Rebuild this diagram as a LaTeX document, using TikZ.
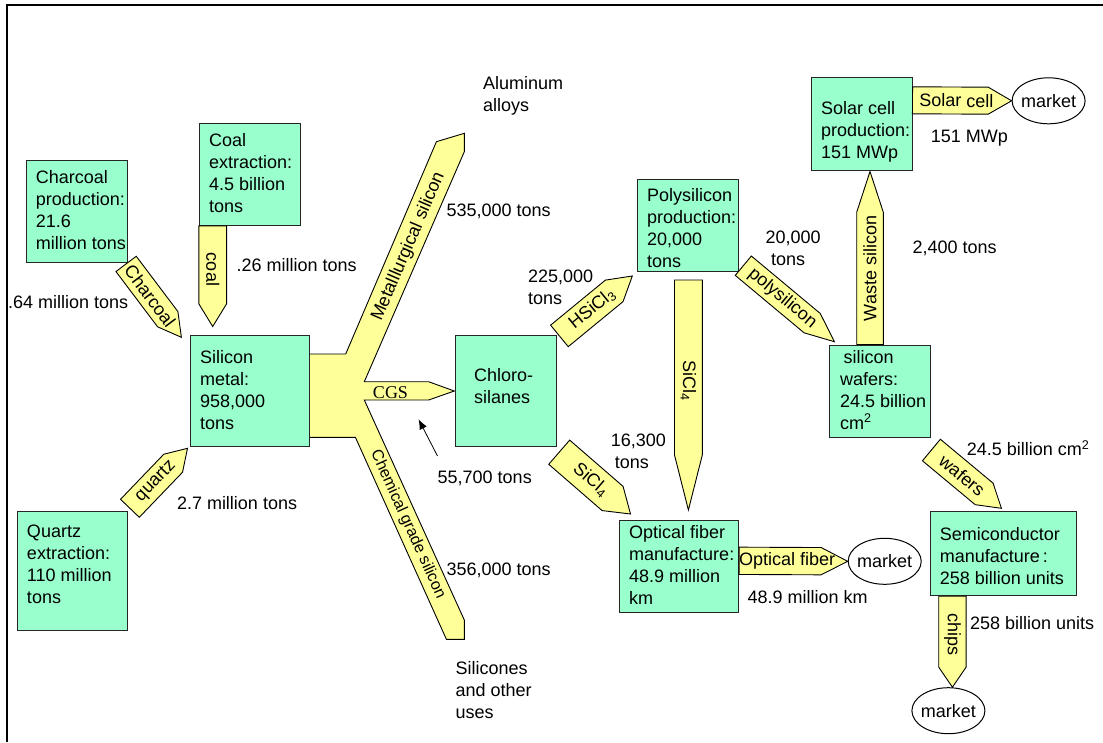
\documentclass[tikz,border=0pt]{standalone}
\usepackage{fontspec}
\setmainfont{Liberation Sans}
\newfontfamily\cgsfont{Liberation Serif}
\usetikzlibrary{calc,shapes.geometric,arrows.meta}

\definecolor{mint}{HTML}{99FFCC}
\definecolor{paleyellow}{HTML}{FFFF99}

\tikzset{
  procbox/.style={draw=black!85, line width=1pt, fill=mint, inner sep=0pt},
  boxtext/.style={align=left, inner sep=0pt, anchor=west, font=\fontsize{18}{22}\selectfont},
  note/.style={align=left, inner sep=0pt, anchor=west, font=\fontsize{18}{22}\selectfont},
  basenote/.style={inner sep=0pt, anchor=base west, font=\fontsize{18}{22}\selectfont},
  flow/.style={draw=black, line width=0.9pt, fill=paleyellow, line join=miter},
  flowlabel/.style={sloped, allow upside down, inner sep=0pt, font=\fontsize{18}{22}\selectfont},
  armlabel/.style={inner sep=0pt, font=\fontsize{18}{22}\selectfont},
  market/.style={ellipse, draw=black, line width=1pt, fill=white, minimum width=73pt,
    minimum height=46pt, inner sep=0pt, font=\fontsize{18}{22}\selectfont},
  frame/.style={line width=2.2pt, line join=miter},
  pointer/.style={line width=0.8pt, -{Latex[length=10pt,width=8pt]}},
}

% block arrow: #1 name, #2 tail, #3 tip, #4 half width, #5 head length,
% #6 label position along the arrow, #7 label
\newcommand\flowarrow[7]{%
  \coordinate (#1-t) at #2;
  \coordinate (#1-h) at #3;
  \coordinate (#1-n) at ($(#1-h)!#5!(#1-t)$);
  \draw[flow] ($(#1-t)!#4!90:(#1-h)$) -- ($(#1-n)!#4!90:(#1-h)$) -- (#1-h)
    -- ($(#1-n)!#4!-90:(#1-h)$) -- ($(#1-t)!#4!-90:(#1-h)$) -- cycle;
  \path (#1-t) -- (#1-h) node[flowlabel, pos=#6] (#1-l) {#7};
}

\begin{document}
\begin{tikzpicture}[x=1pt,y=-1pt]
\useasboundingbox (0,0) rectangle (1103,742);

% page frame
\draw[frame] (6.7,742) -- (6.7,5) -- (1103,5);

% outflow of silicon metal: metallurgical, CGS and chemical grade branches
\draw[flow] (300,354) -- (345.7,354) -- (436.4,141.7) -- (464.3,133.3) -- (464.3,151.7)
  -- (364.3,381.7) -- (428.6,381.7) -- (454.3,391) -- (428.6,400) -- (364.3,400)
  -- (464.3,620) -- (464.3,639.3) -- (446.4,639.3) -- (355.4,437.3) -- (300,437.3) -- cycle;
\node[armlabel, rotate=66.7] (metsi-l) at (408.5,246.5) {Metalllurgical silicon};
\node[armlabel, rotate=-65.6, font=\fontsize{16}{20}\selectfont] (chemsi-l) at (407.8,524.5) {Chemical grade silicon};
\node[inner sep=0pt, font=\cgsfont\fontsize{18}{22}\selectfont] (cgs-l) at (390.5,392.5) {CGS};

% process boxes
\node[procbox, minimum width=100.7pt, minimum height=101.6pt] (charcoalbox) at (76.75,211.5) {};
\node[procbox, minimum width=101.4pt, minimum height=101.6pt] (coalbox) at (250,174.5) {};
\node[procbox, minimum width=118.6pt, minimum height=110.6pt] (simetalbox) at (250,391) {};
\node[procbox, minimum width=100.7pt, minimum height=110.6pt] (chlorobox) at (505.75,391) {};
\node[procbox, minimum width=110pt, minimum height=119.7pt] (quartzbox) at (72.1,570.85) {};
\node[procbox, minimum width=100.2pt, minimum height=92.3pt] (solarbox) at (861.9,123.85) {};
\node[procbox, minimum width=101.2pt, minimum height=92.7pt] (polybox) at (688.3,225.35) {};
\node[procbox, minimum width=100.5pt, minimum height=92.3pt] (waferbox) at (880.05,391.15) {};
\node[procbox, minimum width=118.9pt, minimum height=92.3pt] (fiberbox) at (679.15,566.15) {};
\node[procbox, minimum width=146.5pt, minimum height=84.7pt] (semibox) at (1003.55,553.35) {};

\node[boxtext] (charcoal-txt) at (35.7,209.7) {Charcoal\\production:\\21.6\\million tons};
\node[boxtext] (coal-txt) at (208.9,173) {Coal\\extraction:\\4.5 billion\\tons};
\node[boxtext] (simetal-txt) at (200,389.8) {Silicon\\metal:\\958,000\\tons};
\node[boxtext] (chloro-txt) at (474,385.8) {Chloro-\\silanes};
\node[boxtext] (quartz-txt) at (26.8,564.7) {Quartz\\extraction:\\110 million\\tons};
\node[boxtext] (solar-txt) at (820.8,131.9) {Solar cell\\production:\\151 MWp};
\node[boxtext] (poly-txt) at (647,228) {Polysilicon\\production:\\20,000\\tons};
\node[boxtext] (wafer-txt) at (839.8,389.8) {\hspace*{3.6pt}silicon\\wafers:\\24.5 billion\\cm\textsuperscript{2}};
\node[boxtext] (fiber-txt) at (629,564.7) {Optical fiber\\manufacture:\\48.9 million\\km};
\node[boxtext] (semi-txt) at (939.6,555.9) {Semiconductor\\manufacture\,:\\258 billion units};

% markets
\node[market] (solarmkt) at (1048.6,100.8) {\makebox[0pt]{market}};
\node[market] (fibermkt) at (884.7,561.3) {\makebox[0pt]{market}};
\node[market] (chipmkt) at (948.4,710.7) {\makebox[0pt]{market}};

% material flows
\flowarrow{coal}{($(coalbox.south west)+(13.9,0)$)}{($(coal-t)+(0,100.7)$)}{13.9pt}{22.7pt}{0.434}{coal}
\flowarrow{charc}{(126.1,263.9)}{(181.4,337.3)}{12.7pt}{22.7pt}{0.434}{Charcoal}
\flowarrow{qtz}{(129.9,508.3)}{(187.5,448.3)}{13pt}{20.7pt}{0.45}{quartz}
\flowarrow{hsicl}{(559.4,335.9)}{(632.3,276)}{13.9pt}{23.4pt}{0.45}{HSiCl\textsubscript{3}}
\flowarrow{poly}{(743.3,265.7)}{(834.4,341.7)}{12.6pt}{29pt}{0.43}{polysilicon}
\flowarrow{siclv}{(688.4,280)}{(688.4,510)}{13.9pt}{55pt}{0.438}{SiCl\textsubscript{4}}
\flowarrow{waste}{($(waferbox.north west)+(40.7,0)$)}{($(solarbox.south west)+(58.7,1)$)}{13.3pt}{40.7pt}{0.44}{Waste silicon}
\flowarrow{sicld}{(559.2,452.2)}{(630.5,514)}{16pt}{23.7pt}{0.445}{SiCl\textsubscript{4}}
\flowarrow{wafer}{(931.4,450)}{(1001.4,508.3)}{14pt}{22.5pt}{0.44}{wafers}
\flowarrow{solar}{($(solarbox.north east)+(0,23.1)$)}{(solarmkt.west)}{13.5pt}{23.4pt}{0.443}{Solar cell}
\flowarrow{fiber}{($(fiberbox.north east)+(0,41.3)$)}{(fibermkt.west)}{13.65pt}{26.6pt}{0.443}{Optical fiber}
\flowarrow{chips}{($(semibox.south west)+(22.6,0)$)}{($(chips-t)+(0,91)$)}{13.65pt}{20pt}{0.42}{chips}

% quantities
\node[basenote] (n-charcoal) at (7.9,308) {.64 million tons};
\node[basenote] (n-coal) at (236.4,271.3) {.26 million tons};
\node[note] (n-alu) at (482.9,95.6) {Aluminum\\alloys};
\node[basenote] (n-met) at (446.4,216.3) {535,000 tons};
\node[note] (n-hsicl) at (527.9,286.8) {225,000\\tons};
\node[basenote] (n-chem) at (446.4,575.3) {356,000 tons};
\node[note] (n-silicones) at (455.4,690) {Silicones\\and other\\uses};
\node[basenote] (n-cgs) at (437.5,483) {55,700 tons};
\node[basenote] (n-quartz) at (176.8,509.6) {2.7 million tons};
\node[basenote] (n-solar) at (930.7,142) {151 MWp};
\node[note] (n-poly) at (765.5,248) {20,000\\\hspace*{5.4pt}tons};
\node[basenote] (n-waste) at (912.4,253.3) {2,400 tons};
\node[note] (n-sicl) at (610.7,451) {16,300\\\hspace*{4pt}tons};
\node[basenote] (n-fiber) at (747.5,603) {48.9 million km};
\node[basenote] (n-wafer) at (966.6,455.3) {24.5 billion cm\textsuperscript{2}};
\node[basenote] (n-chips) at (969.8,629.6) {258 billion units};

% pointer to the CGS branch
\coordinate (ptr-a) at (437.5,456);
\coordinate (ptr-b) at (418.6,419.3);
\draw[pointer] (ptr-a) -- (ptr-b);
\end{tikzpicture}
\end{document}
